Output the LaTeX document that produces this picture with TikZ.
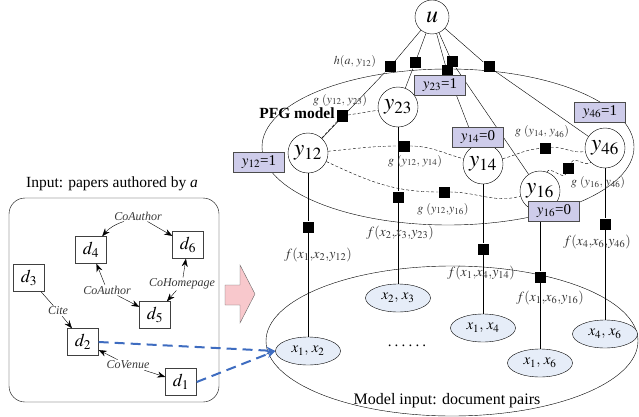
\documentclass[tikz,border=0pt]{standalone}
\usepackage{mathptmx}
\usepackage{fontspec}
\setmainfont{Liberation Serif}
\usetikzlibrary{arrows.meta,shapes.geometric}
\definecolor{lav}{RGB}{206,204,234}
\definecolor{pairfill}{RGB}{230,237,248}
\definecolor{bluearr}{RGB}{62,108,192}
\definecolor{pinkfill}{RGB}{248,200,204}
\definecolor{txtgray}{RGB}{55,55,55}
\tikzset{
  var/.style={circle, draw, fill=white, minimum size=40pt, inner sep=0pt, font=\fontsize{23}{25}\selectfont},
  fac/.style={rectangle, fill=black, minimum size=11pt, inner sep=0pt},
  valbox/.style={rectangle, draw=black!70, fill=lav, minimum width=51pt, minimum height=20pt, inner sep=1pt, font=\fontsize{15}{16}\selectfont},
  pair/.style={ellipse, draw, fill=pairfill, minimum width=65pt, minimum height=28pt, inner sep=0pt, font=\fontsize{15}{16}\selectfont},
  doc/.style={rectangle, draw=black!75, fill=white, minimum width=31pt, minimum height=27pt, inner sep=0pt, font=\fontsize{18}{19}\selectfont},
  flab/.style={font=\fontsize{14}{15}\selectfont, text=txtgray, inner sep=1pt},
  glab/.style={font=\fontsize{12}{13}\selectfont, text=txtgray, inner sep=1pt},
  elab/.style={font=\fontsize{12}{13}\selectfont\itshape, text=txtgray, inner sep=1pt},
  arr/.style={-{Stealth[length=8pt,width=6pt]}},
  gline/.style={dashed, dash pattern=on 3pt off 2pt},
  bluedash/.style={draw=bluearr, line width=2pt, dash pattern=on 10pt off 6pt, -{Stealth[length=9pt,width=8pt]}}
}
\begin{document}
\begin{tikzpicture}[x=1pt,y=-1pt]
\useasboundingbox (0,0) rectangle (639,417);
% big ellipses
\draw (448,147) ellipse [x radius=186, y radius=78];
\draw (452,341) ellipse [x radius=186, y radius=75];
% left box
\draw[rounded corners=16pt] (9,198) rectangle (219,402);
% pink arrow
\draw[draw=black!60, fill=pinkfill] (225,285) -- (240,285) -- (240,265) -- (255,294) -- (240,323) -- (240,305) -- (225,305) -- cycle;

% variable nodes
\node[var, minimum size=34pt, font=\fontsize{24}{26}\selectfont] (u) at (432,17) {$u$};
\node[var] (y12) at (308,153) {$y_{12}$};
\node[var] (y23) at (398,107) {$y_{23}$};
\node[var] (y14) at (483,164) {$y_{14}$};
\node[var] (y16) at (540,191) {$y_{16}$};
\node[var] (y46) at (605,148) {$y_{46}$};

% factor nodes
\node[fac] (h12) at (390,67) {};
\node[fac] (h23) at (415,63) {};
\node[fac] (h14) at (447,71) {};
\node[fac] (h16) at (452,62) {};
\node[fac] (h46) at (489,67) {};
\node[fac] (g1223) at (342,116) {};
\node[fac] (g1214) at (404,146) {};
\node[fac] (g1216) at (444,192) {};
\node[fac] (g1446) at (545,148) {};
\node[fac] (g1646) at (568,168) {};
\node[fac] (f12) at (308,227) {};
\node[fac] (f23) at (398,197) {};
\node[fac] (f14) at (483,249) {};
\node[fac] (f16) at (540,277) {};
\node[fac] (f46) at (605,224) {};

% pair nodes
\node[pair] (x12) at (308,351) {$x_1,\,x_2$};
\node[pair] (x23) at (398,298) {$x_2,\,x_3$};
\node[pair] (x14) at (483,328) {$x_1,\,x_4$};
\node[pair] (x16) at (540,363) {$x_1,\,x_6$};
\node[pair] (x46) at (605,334) {$x_4,\,x_6$};
\node[font=\fontsize{15}{16}\selectfont] (dots) at (407,346) {.\hspace{3.2pt}.\hspace{3.2pt}.\hspace{3.2pt}.\hspace{3.2pt}.\hspace{3.2pt}.};

% u connections
\draw (u) -- (h12) -- (y12);
\draw (u) -- (h23) -- (y23);
\draw (u) -- (h14) -- (y14);
\draw (u) -- (h16) -- (y16);
\draw (u) -- (h46) -- (y46);

% g connections
\draw[gline] (y12) -- (g1223) -- (y23);
\draw[gline] (y12) to[out=5,in=180] (g1214) to[out=0,in=165] (y14);
\draw[gline] (y12) to[out=-25,in=180] (g1216) to[out=0,in=195] (y16);
\draw[gline] (y14) to[out=15,in=185] (g1446) to[out=5,in=190] (y46);
\draw[gline] (y16) to[out=70,in=250] (g1646) to[out=60,in=225] (y46);

% f connections
\draw (y12) -- (f12) -- (x12);
\draw (y23) -- (f23) -- (x23);
\draw (y14) -- (f14) -- (x14);
\draw (y16) -- (f16) -- (x16);
\draw (y46) -- (f46) -- (x46);

% value boxes
\node[valbox] (v12) at (259,162) {$y_{12}$=1};
\node[valbox] (v23) at (440,85) {$y_{23}$=1};
\node[valbox] (v14) at (478,137) {$y_{14}$=0};
\node[valbox] (v46) at (600,112) {$y_{46}$=1};
\node[valbox] (v16) at (554,211) {$y_{16}$=0};

% factor labels
\node[glab] (lh) at (355,62) {$h(a,\,y_{12})$};
\node[glab] (lg1223) at (340,100) {$g\ (y_{12},\,y_{23})$};
\node[glab] (lg1214) at (415,161) {$g\ (y_{12},\,y_{14})$};
\node[glab] (lg1216) at (443,209) {$g\ (y_{12}{,}y_{16})$};
\node[glab] (lg1446) at (542,132) {$g\ (y_{14},\,y_{46})$};
\node[glab] (lg1646) at (598,182) {$g\ (y_{16},\,y_{46})$};
\node[flab] (lf12) at (318,255) {$f(x_1{,}x_2{,}y_{12})$};
\node[flab] (lf23) at (400,233) {$f(x_2{,}x_3{,}y_{23})$};
\node[flab] (lf14) at (481,273) {$f(x_1{,}x_4{,}y_{14})$};
\node[flab] (lf16) at (550,298) {$f(x_1{,}x_6{,}y_{16})$};
\node[flab] (lf46) at (597,242) {$f(x_4{,}x_6{,}y_{46})$};

% titles
\node[font=\fontsize{15.5}{17}\selectfont\bfseries] (pfg) at (297,113) {PFG model};
\node[font=\fontsize{15.5}{17}\selectfont] (inp) at (112,184) {Input: papers authored by \textit{a}};
\node[font=\fontsize{16}{18}\selectfont] (mod) at (447,401) {Model input: document pairs};

% documents
\node[doc] (d4) at (91,250) {$d_4$};
\node[doc] (d6) at (188,245) {$d_6$};
\node[doc] (d3) at (29,278) {$d_3$};
\node[doc] (d5) at (155,315) {$d_5$};
\node[doc] (d2) at (83,342) {$d_2$};
\node[doc] (d1) at (181,382) {$d_1$};

% edge labels
\node[elab] (ca1) at (138,216) {CoAuthor};
\node[elab] (ca2) at (107,290) {CoAuthor};
\node[elab] (ch) at (182,284) {CoHomepage};
\node[elab] (cite) at (58,311) {Cite};
\node[elab] (cv) at (128,365) {CoVenue};

\draw[arr] (ca1) to[bend right=15] (d4);
\draw[arr] (ca1) -- (d6);
\draw[arr] (ca2) -- (d4);
\draw[arr] (ca2) -- (d5);
\draw[arr] (ch) -- (d6);
\draw[arr] (ch) -- (d5);
\draw (d3) -- (cite);
\draw[arr] (cite) -- (d2);
\draw[arr] (cv) -- (d2);
\draw[arr] (cv) -- (d1);

% blue dashed arrows
\draw[bluedash] (d2.east) -- (x12.west);
\draw[bluedash] (d1.east) -- (x12.west);
\end{tikzpicture}
\end{document}
